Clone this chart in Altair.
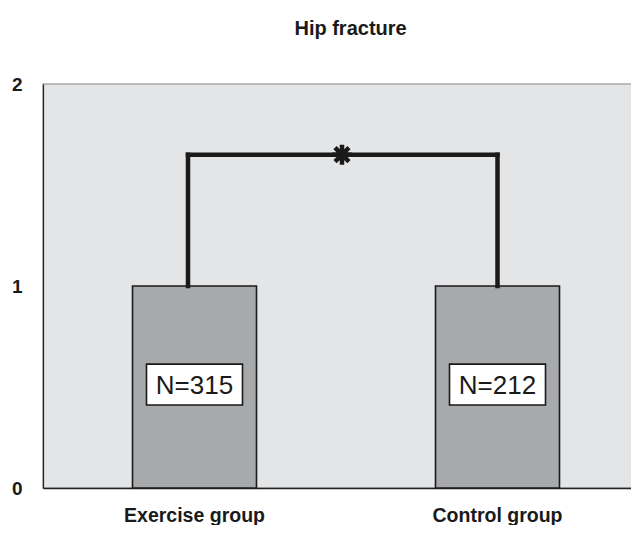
import altair as alt
import pandas as pd

groups = ["Exercise group", "Control group"]
values = [1, 1]
n_labels = ["N=315", "N=212"]
label_level = [0.512, 0.512]
bracket_top = 1.65
y_ticks = [0, 1, 2]
title_text = "Hip fracture"

FONT = "Liberation Sans"

bars_df = pd.DataFrame({"group": groups, "value": values, "label": n_labels, "ly": label_level})
bracket_df = pd.DataFrame({
    "group": [groups[0]], "group2": [groups[1]],
    "low": [values[0]], "top": [bracket_top]
})

xscale = alt.Scale(domain=groups, paddingInner=0, paddingOuter=0)
yscale = alt.Scale(domain=[0, 2], nice=False, zero=True)
yaxis = alt.Axis(values=y_ticks, title=None, labelExpr="format(datum.value, '.0f')",
                 labelOverlap=False)


def X(field, **kw):
    return alt.X(field, scale=xscale, sort=groups, title=None, **kw)


bars = alt.Chart(bars_df).mark_bar(
    size=124, color="#a8a9ab", stroke="#1a1a1a", strokeWidth=1.6
).encode(x=X("group:N"), y=alt.Y("value:Q", scale=yscale, axis=yaxis))

line_style = dict(color="#1a1a1a", strokeWidth=4.5, strokeCap="square")

left_rule = alt.Chart(bracket_df).mark_rule(xOffset=-6.5, **line_style).encode(
    x=X("group:N"), y=alt.Y("low:Q", scale=yscale, axis=yaxis), y2="top:Q")
top_rule = alt.Chart(bracket_df).mark_rule(xOffset=-6.5, **line_style).encode(
    x=X("group:N"), x2="group2:N", y=alt.Y("top:Q", scale=yscale, axis=yaxis))
right_rule = alt.Chart(bracket_df).mark_rule(**line_style).encode(
    x=X("group2:N"), y=alt.Y("low:Q", scale=yscale, axis=yaxis), y2="top:Q")

asterisk = alt.Chart(bracket_df).mark_point(
    shape="M0,-1L0,1M-1,0L1,0M-0.7,-0.7L0.7,0.7M-0.7,0.7L0.7,-0.7",
    size=400, filled=False, stroke="#1a1a1a", strokeWidth=4.5, opacity=1, xOffset=-4
).encode(x=X("group:N", bandPosition=1), y=alt.Y("top:Q", scale=yscale, axis=yaxis))

boxes = alt.Chart(bars_df).mark_point(
    shape="M-1,-0.427L1,-0.427L1,0.427L-1,0.427Z",
    size=9216, filled=True, fill="white", stroke="#1a1a1a", strokeWidth=1.6, opacity=1
).encode(x=X("group:N"), y=alt.Y("ly:Q", scale=yscale, axis=yaxis))

texts = alt.Chart(bars_df).mark_text(
    font=FONT, fontSize=26, color="#1a1a1a", baseline="middle", align="center", dy=1
).encode(x=X("group:N"), y=alt.Y("ly:Q", scale=yscale, axis=yaxis), text="label:N")

chart = alt.layer(bars, left_rule, top_rule, right_rule, asterisk, boxes, texts).properties(
    width=606, height=404,
    title=alt.TitleParams(title_text, font=FONT, fontSize=20, fontWeight="bold",
                          color="#1a1a1a", anchor="start", dx=283, offset=36),
    autosize=alt.AutoSizeParams(type="none"),
    padding={"left": 35, "top": 76, "right": -18, "bottom": 37},
).configure_view(
    fill="#e4e5e7", stroke="#a9a9a9", strokeWidth=1.5
).configure_axisX(
    labelFont=FONT, labelFontSize=19.5, labelFontWeight="bold", labelColor="#1a1a1a",
    labelAngle=0, labelPadding=18, ticks=False, domainColor="#222222", domainWidth=1.5,
    grid=False
).configure_axisY(
    labelFont=FONT, labelFontSize=19, labelFontWeight="bold", labelColor="#1a1a1a",
    labelPadding=21, ticks=False, domainColor="#222222", domainWidth=1.2, grid=False,
    labelOverlap=False
)

chart.save("out.html", embed_options={"renderer": "svg", "actions": False})
